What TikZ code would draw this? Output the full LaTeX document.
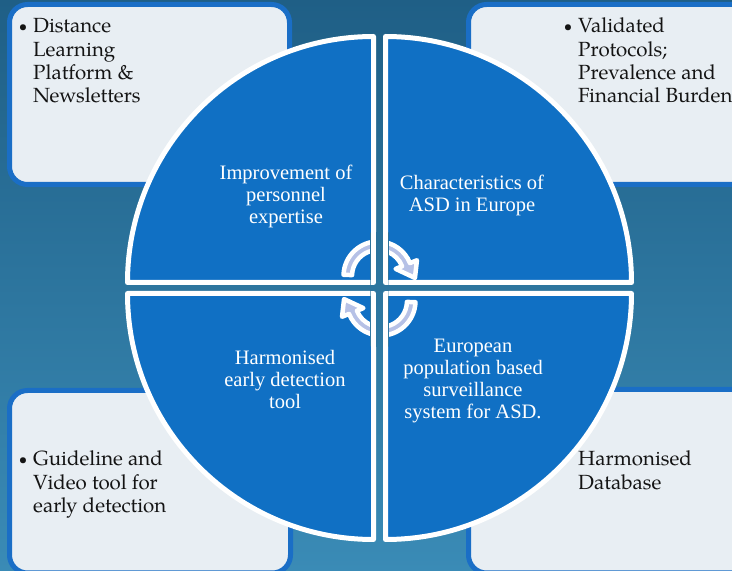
\documentclass[tikz,border=0pt]{standalone}
\usepackage{fontspec}
\setmainfont{Liberation Serif}
\newfontfamily\palfont{TeX Gyre Pagella}
\definecolor{bgtop}{HTML}{1F5F86}
\definecolor{bgbot}{HTML}{3A8BB6}
\definecolor{boxfill}{HTML}{E8EEF3}
\definecolor{boxline}{HTML}{1A6EC6}
\definecolor{quadblue}{HTML}{1070C4}
\definecolor{arrowfill}{HTML}{B6C1E6}
\newcommand\itembul{\raisebox{1pt}{\fontsize{15}{15}\selectfont\textbullet}\hspace{6pt}}
\tikzset{
  cyclearrow/.pic={
    \draw[arrowshape] (178:34.5) arc[start angle=178,end angle=22,radius=34.5]
      -- (22:42) -- (-3:37) -- (22:19) -- (22:26)
      arc[start angle=22,end angle=178,radius=26] -- cycle;
  }
}
\begin{document}
\begin{tikzpicture}[x=1pt,y=1pt,
  infobox/.style={fill=boxfill, draw=boxline, line width=5pt, rounded corners=18pt},
  quad/.style={fill=quadblue, draw=white, line width=5pt, line join=round},
  gapline/.style={draw=white, line width=5pt, line join=round},
  quadtext/.style={text=white, font=\fontsize{20.5}{22}\selectfont, inner sep=0pt, anchor=base},
  boxtext/.style={text=black!92, font=\palfont\fontsize{20.5}{23.3}\selectfont, inner sep=0pt, anchor=base west},
  arrowshape/.style={fill=arrowfill, draw=white, line width=4.5pt, line join=round}
]
\useasboundingbox (0,0) rectangle (732,571);
\clip (0,0) rectangle (732,571);
\shade[top color=bgtop, bottom color=bgbot] (0,0) rectangle (732,571);

% corner boxes
\draw[infobox] (9.5,566.5) rectangle (289.5,386.5);
\draw[infobox] (468.5,566.5) rectangle (760,386.5);
\draw[infobox] (9.5,180.5) rectangle (290.5,-2);
\draw[infobox] (468.5,181.5) rectangle (760,-2);

% quadrants
\draw[quad] (373.5,288.5) -- (127.5,288.5) arc[start angle=180,end angle=90,radius=246] -- cycle;
\draw[quad] (385.5,288.5) -- (385.5,534.5) arc[start angle=90,end angle=0,radius=246] -- cycle;
\draw[quad] (373.5,277.5) -- (373.5,31.5) arc[start angle=270,end angle=180,radius=246] -- cycle;
\draw[quad] (385.5,277.5) -- (631.5,277.5) arc[start angle=0,end angle=-90,radius=246] -- cycle;

% quadrant texts
\node[quadtext] (q1) at (286,391) {\begin{tabular}[t]{@{}c@{}}Improvement of\\ personnel\\ expertise\end{tabular}};
\node[quadtext] (q2) at (472,381) {\begin{tabular}[t]{@{}c@{}}Characteristics of\\ ASD in Europe\end{tabular}};
\node[quadtext] (q3) at (285,206) {\begin{tabular}[t]{@{}c@{}}Harmonised\\ early detection\\ tool\end{tabular}};
\node[quadtext] (q4) at (473,218) {\begin{tabular}[t]{@{}c@{}}European\\ population based\\ surveillance\\ system for ASD.\end{tabular}};

% box texts
\node[boxtext] (b1) at (33,538) {\begin{tabular}[t]{@{}l@{}}\llap{\itembul}Distance\\ Learning\\ Platform \&\\ Newsletters\end{tabular}};
\node[boxtext] (b2) at (578,538) {\begin{tabular}[t]{@{}l@{}}\llap{\itembul}Validated\\ Protocols;\\ Prevalence and\\ Financial Burden\end{tabular}};
\node[boxtext] (b3) at (33,105) {\begin{tabular}[t]{@{}l@{}}\llap{\itembul}Guideline and\\ Video tool for\\ early detection\end{tabular}};
\node[boxtext] (b4) at (578,105) {\begin{tabular}[t]{@{}l@{}}Harmonised\\ Database\end{tabular}};

% cycle arrows
\pic (arrtop) at (378,295) {cyclearrow};
\pic[rotate=180] (arrbot) at (381,270) {cyclearrow};

% the vertical gap between the quadrants runs across the arrows
\begin{scope}
  \clip (370.5,338) rectangle (388.5,224);
  \shade[top color=bgtop, bottom color=bgbot] (0,0) rectangle (732,571);
  \draw[gapline] (330,288.5) -- (373.5,288.5) -- (373.5,345);
  \draw[gapline] (430,288.5) -- (385.5,288.5) -- (385.5,345);
  \draw[gapline] (330,277.5) -- (373.5,277.5) -- (373.5,220);
  \draw[gapline] (430,277.5) -- (385.5,277.5) -- (385.5,220);
\end{scope}
\end{tikzpicture}
\end{document}
